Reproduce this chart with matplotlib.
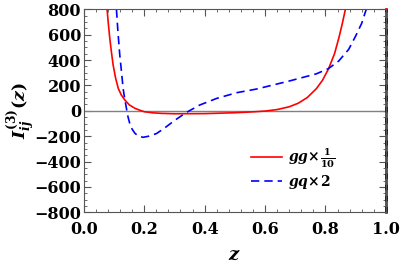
import matplotlib.pyplot as plt
from matplotlib.ticker import MultipleLocator

plt.rcParams['font.family'] = 'DejaVu Serif'
plt.rcParams['font.weight'] = 'bold'
plt.rcParams['mathtext.fontset'] = 'dejavuserif'

# gg x 1/10
z_gg = [0.077, 0.081, 0.086, 0.091, 0.097, 0.105, 0.114, 0.124, 0.136, 0.15, 0.169, 0.185,
        0.2, 0.23, 0.257, 0.3, 0.4, 0.5, 0.56, 0.6, 0.64, 0.68, 0.71, 0.74, 0.77, 0.79,
        0.81, 0.83, 0.845, 0.856, 0.866]
v_gg = [800, 690, 571, 470, 361, 260, 177, 125, 85, 48, 20, 5,
        -7, -16, -20, -23, -22, -15, -8, -2, 10, 32, 60, 105, 175, 240,
        330, 450, 580, 690, 800]

# gq x 2
z_gq = [0.108, 0.113, 0.119, 0.125, 0.13, 0.135, 0.141, 0.146, 0.152, 0.16, 0.169, 0.18,
        0.196, 0.215, 0.24, 0.265, 0.301, 0.34, 0.384, 0.44, 0.506, 0.572, 0.68, 0.77,
        0.81, 0.844, 0.877, 0.9, 0.92, 0.935]
v_gq = [800, 620, 440, 300, 177, 100, 20, -45, -99, -145, -177, -198,
        -209, -200, -180, -140, -75, -12, 46, 98, 143, 172, 235, 292,
        333, 393, 485, 590, 690, 800]

z_end = 1.0  # endpoint contribution

fig = plt.figure(figsize=(4.07, 2.69), dpi=100)
ax = fig.add_axes([0.206, 0.211, 0.742, 0.754])

ax.axhline(0, color='gray', lw=1.0)
ax.plot(z_gg, v_gg, color='red', lw=1.2, label=r'$\boldsymbol{gg}\!\times\!\frac{1}{10}$')
ax.plot(z_gq, v_gq, color='blue', lw=1.2, ls=(0, (5, 3)), label=r'$\boldsymbol{gq}\!\times\!2$')
ax.axvline(z_end, color='red', lw=2.0, clip_on=False)
ax.axvline(z_end, color='blue', lw=2.0, ls=(0, (2, 2)), clip_on=False)

ax.set_xlim(0, 1)
ax.set_ylim(-800, 800)
ax.xaxis.set_major_locator(MultipleLocator(0.2))
ax.xaxis.set_minor_locator(MultipleLocator(0.04))
ax.yaxis.set_major_locator(MultipleLocator(200))
ax.yaxis.set_minor_locator(MultipleLocator(50))
ax.tick_params(which='both', direction='in', top=True, right=True, labelsize=11.5, color='#555555')
ax.tick_params(which='major', length=5)
ax.tick_params(which='minor', length=2.5)
ax.tick_params(axis='x', pad=6.5)
ax.tick_params(axis='y', pad=2)
for s in ax.spines.values():
    s.set_color('#555555')

ax.set_xlabel(r'$\boldsymbol{z}$', fontsize=13)
ax.set_ylabel(r'$\boldsymbol{I^{(3)}_{ij}(z)}$', fontsize=12.5)
ax.xaxis.set_label_coords(0.5, -0.165)
ax.yaxis.set_label_coords(-0.155, 0.5)

ax.legend(loc='center left', bbox_to_anchor=(0.535, 0.215), frameon=False, fontsize=10,
          handlelength=2.2, handletextpad=0.5, labelspacing=0.2, borderaxespad=0)

fig.savefig('out.png', dpi=100)
